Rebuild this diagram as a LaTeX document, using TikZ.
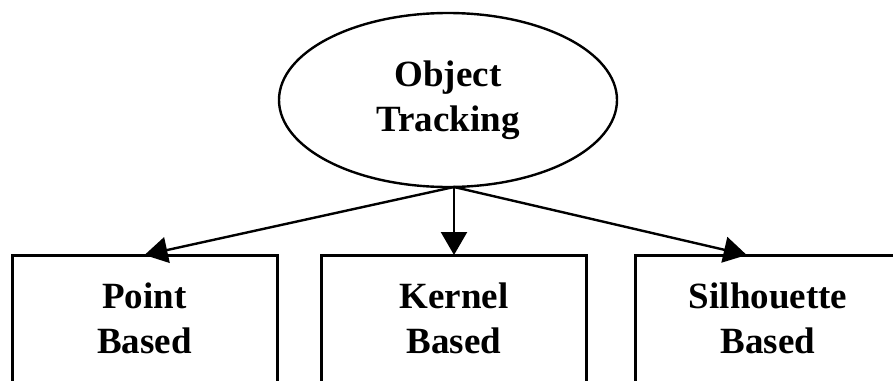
\documentclass[tikz,border=0pt]{standalone}
\usepackage{fontspec}
\setmainfont{Liberation Serif}
\usetikzlibrary{arrows.meta,shapes.geometric,calc}

\tikzset{
  labeltext/.style={font=\fontsize{37}{45}\selectfont\bfseries, align=center, text=black},
  rootnode/.style={labeltext, draw, ellipse, line width=2.4pt, inner sep=0pt, outer sep=0pt,
                   minimum width=338pt, minimum height=174pt},
  leafbox/.style={labeltext, draw, rectangle, line width=3pt, inner sep=0pt, outer sep=0pt,
                  minimum width=265pt, minimum height=134pt, text depth=8pt},
  link/.style={line width=2.4pt, -{Triangle[length=23pt,width=26pt]}}
}

\begin{document}
\begin{tikzpicture}[x=1pt, y=-1pt]
  \useasboundingbox (0,0) rectangle (893,380);
  \clip (0,0) rectangle (893,380);
  \fill[white] (0,0) rectangle (893,380);

  % root of the taxonomy
  \node[rootnode] (root) at (448,100) {Object\\Tracking};

  % the three families of trackers (their lower edges run off the page)
  \node[leafbox] (point)  at (144.5,322) {Point\\Based};
  \node[leafbox] (kernel) at (454,322)   {Kernel\\Based};
  \node[leafbox, minimum width=266pt] (silh) at (768,322) {Silhouette\\Based};

  % common start point of the three arrows, on the ellipse's lower edge
  \coordinate (hub) at (root.south -| kernel.north);

  \draw[link] (hub) -- (point.north);
  \draw[link] (hub) -- (kernel.north);
  \draw[link] (hub) -- ($(silh.north west)!0.42!(silh.north east)$);
\end{tikzpicture}
\end{document}
